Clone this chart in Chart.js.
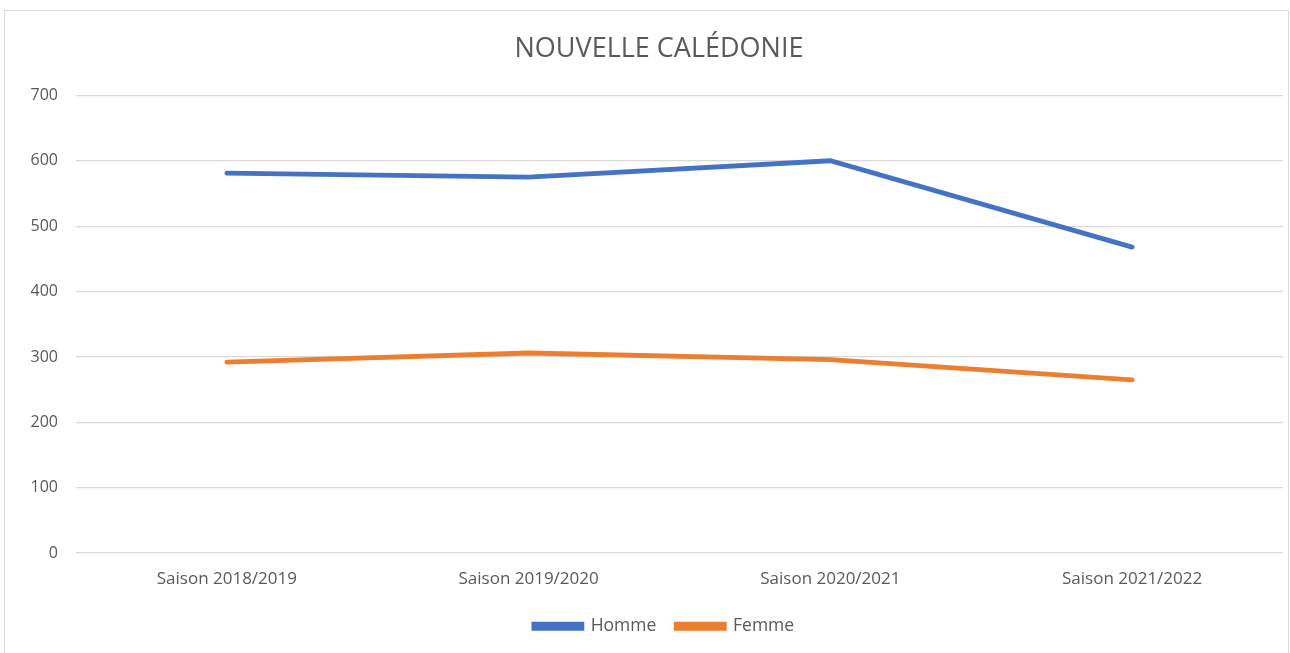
<!DOCTYPE html>
<html>
 <head>
  <meta charset="utf-8" />
  <title>Nouvelle Calédonie</title>
  <style>
   body { margin: 0; background: #fff; }
   #box { position: absolute; left: 4px; top: 10px; width: 1283px; height: 660px; border: 1px solid #d9d9d9; }
   #wrap { position: absolute; left: 0; top: 0; width: 1283px; height: 642px; }
  </style>
 </head>
 <body>
  <div id="box"><div id="wrap"><canvas id="popChart"></canvas></div></div>

  <script src="https://cdn.jsdelivr.net/npm/chart.js@4/dist/chart.umd.min.js"></script>
  <script>
// donnees
const saisons = ['Saison 2018/2019', 'Saison 2019/2020', 'Saison 2020/2021', 'Saison 2021/2022'];
const homme = [581, 575, 600, 468];
const femme = [292, 306, 296, 265];
const yTicks = [0, 100, 200, 300, 400, 500, 600, 700];

const grey = '#595959';
Chart.defaults.font.family = "'Open Sans', sans-serif";
Chart.defaults.color = grey;

// titre et legende un peu decales vers la droite comme dans l'original
const decale = {
    id: 'decale',
    afterLayout(chart) {
        const t = chart.titleBlock, l = chart.legend;
        t.left += 15; t.right += 15;
        l.left += 20; l.right += 20;
        l.legendHitBoxes.forEach(h => { h.left += 20; });
    }
};

new Chart(document.getElementById('popChart'), {
    type: 'line',
    data: {
        labels: saisons,
        datasets: [{
            label: 'Homme',
            data: homme,
            borderColor: '#4472C4',
            backgroundColor: '#4472C4',
            borderWidth: 4.8,
            borderCapStyle: 'round',
            pointRadius: 0,
            fill: false
        }, {
            label: 'Femme',
            data: femme,
            borderColor: '#ED7D31',
            backgroundColor: '#ED7D31',
            borderWidth: 4.8,
            borderCapStyle: 'round',
            pointRadius: 0,
            fill: false
        }]
    },
    plugins: [decale],
    options: {
        responsive: true,
        maintainAspectRatio: false,
        animation: false,
        layout: { padding: { left: 0, right: 5, top: 14, bottom: 8 } },
        plugins: {
            title: {
                display: true,
                text: 'NOUVELLE CALÉDONIE',
                font: { size: 27, weight: 'normal' },
                color: grey,
                padding: { top: 8, bottom: 30 }
            },
            legend: {
                position: 'bottom',
                labels: {
                    boxWidth: 48,
                    boxHeight: 4,
                    padding: 20,
                    font: { size: 17.5 },
                    color: grey
                }
            },
            tooltip: { enabled: false }
        },
        scales: {
            x: {
                offset: true,
                grid: { display: false },
                border: { display: false },
                ticks: { font: { size: 17 }, color: grey, padding: 8, maxRotation: 0 }
            },
            y: {
                min: 0,
                max: 700,
                afterBuildTicks: s => { s.ticks = yTicks.map(v => ({ value: v })); },
                afterFit: s => { s.width = 71; },
                grid: { color: '#d9d9d9', lineWidth: 1.3, drawTicks: false },
                border: { display: false },
                ticks: { font: { size: 16 }, color: grey, padding: 18 }
            }
        }
    }
});
  </script>
 </body>
</html>
